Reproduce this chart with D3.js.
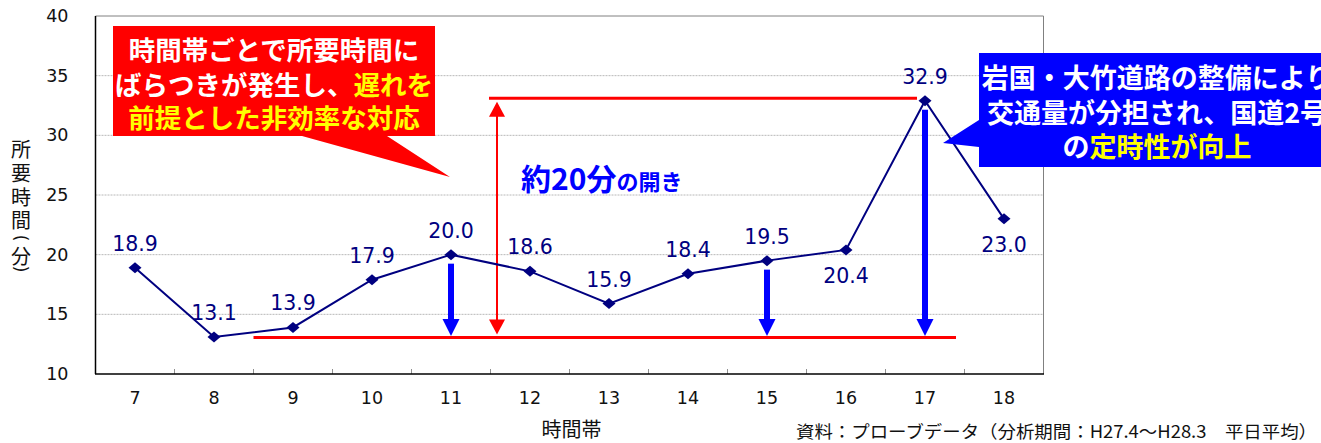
<!DOCTYPE html>
<html>
<head>
<meta charset="utf-8">
<script src="https://cdn.jsdelivr.net/npm/d3@7"></script>
<style>
  body { margin: 0; background: #fff; }
  svg { display: block; }
</style>
</head>
<body>
<div id="chart"></div>
<script>
// data
var hours = [7, 8, 9, 10, 11, 12, 13, 14, 15, 16, 17, 18];
var minutes = [18.9, 13.1, 13.9, 17.9, 20.0, 18.6, 15.9, 18.4, 19.5, 20.4, 32.9, 23.0];
var yTicks = [10, 15, 20, 25, 30, 35, 40];
var labelsBelow = [16, 18];          // hours whose value label sits under the point
var arrowHours = [11, 15, 17];       // blue "drop" arrows

var W = 1321, H = 443;
var plot = {left: 95.5, right: 1043.5, top: 16, bottom: 374};

var jp = "'Noto Sans CJK JP', 'Noto Sans', sans-serif";
var num = "'DejaVu Sans', 'Liberation Sans', sans-serif";
var navy = "#000080";

var svg = d3.select("#chart").append("svg")
    .attr("width", W)
    .attr("height", H);

svg.append("rect").attr("width", W).attr("height", H).attr("fill", "#fff");

var x = d3.scaleBand()
    .domain(hours)
    .range([plot.left, plot.right]);

var y = d3.scaleLinear()
    .domain([10, 40])
    .range([plot.bottom, plot.top]);

var cx = function(h) { return x(h) + x.bandwidth() / 2; };

// gridlines
svg.append("g")
  .selectAll("line")
  .data(yTicks.filter(function(t) { return t > 10 && t < 40; }))
  .enter().append("line")
    .attr("x1", plot.left).attr("x2", plot.right)
    .attr("y1", function(d) { return y(d); })
    .attr("y2", function(d) { return y(d); })
    .attr("stroke", "#b8b8b8")
    .attr("stroke-dasharray", "2,1");

// plot frame: grey top/right, black left/bottom
svg.append("path")
    .attr("d", "M" + plot.left + "," + y(40) + "H" + plot.right + "V" + plot.bottom)
    .attr("fill", "none")
    .attr("stroke", "#808080");

// x ticks between categories, pointing inward
svg.append("g")
  .selectAll("line")
  .data(hours.slice(1))
  .enter().append("line")
    .attr("x1", function(d) { return x(d); })
    .attr("x2", function(d) { return x(d); })
    .attr("y1", plot.bottom)
    .attr("y2", plot.bottom - 5)
    .attr("stroke", "#909090");

svg.append("line")
    .attr("x1", plot.left).attr("x2", plot.left)
    .attr("y1", plot.top).attr("y2", plot.bottom)
    .attr("stroke", "#000").attr("stroke-width", 1.5);
svg.append("line")
    .attr("x1", plot.left - 0.5).attr("x2", plot.right + 0.5)
    .attr("y1", plot.bottom).attr("y2", plot.bottom)
    .attr("stroke", "#000").attr("stroke-width", 1.5);

// axes (labels only)
var yAxis = svg.append("g")
    .attr("transform", "translate(" + plot.left + ",0)")
    .call(d3.axisLeft(y).tickValues(yTicks).tickSize(0).tickPadding(27));
yAxis.select(".domain").remove();
yAxis.selectAll("text")
    .style("font-family", num)
    .style("font-size", "17.5px")
    .attr("fill", "#111");

var xAxis = svg.append("g")
    .attr("transform", "translate(0," + plot.bottom + ")")
    .call(d3.axisBottom(x).tickSize(0).tickPadding(18));
xAxis.select(".domain").remove();
xAxis.selectAll("text")
    .style("font-family", num)
    .style("font-size", "17.5px")
    .attr("fill", "#111");

// axis titles (vertical; brackets are turned a quarter)
var yTitle = [
  {c: "所", y: 148}, {c: "要", y: 172}, {c: "時", y: 196}, {c: "間", y: 219.5},
  {c: "(", y: 238, r: 90}, {c: "分", y: 255}, {c: ")", y: 269, r: 90}
];
svg.append("g").selectAll("text")
  .data(yTitle)
  .enter().append("text")
    .attr("x", 21)
    .attr("y", function(d) { return d.y; })
    .attr("transform", function(d) { return d.r ? "rotate(" + d.r + ",21," + d.y + ")" : null; })
    .attr("text-anchor", "middle")
    .attr("dominant-baseline", "central")
    .style("font-family", function(d) { return d.r ? num : jp; })
    .style("font-size", function(d) { return d.r ? "17px" : "20px"; })
    .attr("fill", "#111")
    .text(function(d) { return d.c; });

svg.append("text")
    .attr("x", (plot.left + plot.right) / 2 + 2)
    .attr("y", 437)
    .attr("text-anchor", "middle")
    .style("font-family", jp)
    .style("font-size", "20px")
    .attr("fill", "#111")
    .text("時間帯");

svg.append("text")
    .attr("x", 796)
    .attr("y", 438)
    .attr("textLength", 521)
    .attr("lengthAdjust", "spacingAndGlyphs")
    .style("font-family", jp)
    .style("font-size", "17.5px")
    .attr("fill", "#111")
    .text("資料：プローブデータ（分析期間：H27.4～H28.3　平日平均）");

// red reference band (min / max) and the double arrow
var vMin = d3.min(minutes), vMax = d3.max(minutes);
var red = "#ff0000";

svg.append("line")
    .attr("x1", x(9)).attr("x2", cx(17) + 31)
    .attr("y1", y(vMin) + 0.5).attr("y2", y(vMin) + 0.5)
    .attr("stroke", red).attr("stroke-width", 3);
svg.append("line")
    .attr("x1", x(12) - 1.5).attr("x2", cx(17) - 8)
    .attr("y1", y(vMax) - 2.5).attr("y2", y(vMax) - 2.5)
    .attr("stroke", red).attr("stroke-width", 3);

var ax = x(12) + 6.5, aTop = y(vMax) + 1, aBot = y(vMin) - 2.5;
svg.append("line")
    .attr("x1", ax).attr("x2", ax)
    .attr("y1", aTop + 12).attr("y2", aBot - 12)
    .attr("stroke", red).attr("stroke-width", 2);
svg.append("path")
    .attr("d", "M" + ax + "," + aTop + "l8,15h-16z")
    .attr("fill", red);
svg.append("path")
    .attr("d", "M" + ax + "," + aBot + "l8,-15h-16z")
    .attr("fill", red);

// blue drop arrows
var blue = "#0000ff";
var arrows = svg.append("g").selectAll("g")
  .data(arrowHours)
  .enter().append("g");
arrows.append("rect")
    .attr("x", function(h) { return cx(h) - 3; })
    .attr("width", 6)
    .attr("y", function(h) { return y(minutes[hours.indexOf(h)]) + 9; })
    .attr("height", function(h) { return y(vMin) - 16 - (y(minutes[hours.indexOf(h)]) + 9); })
    .attr("fill", blue);
arrows.append("path")
    .attr("d", function(h) { return "M" + cx(h) + "," + (y(vMin) - 1) + "l8.5,-17h-17z"; })
    .attr("fill", blue);

// the series line
var line = d3.line()
    .x(function(d, i) { return cx(hours[i]); })
    .y(function(d) { return y(d); });

svg.append("path")
    .datum(minutes)
    .attr("d", line)
    .attr("fill", "none")
    .attr("stroke", navy)
    .attr("stroke-width", 2);

svg.append("g").selectAll("path")
  .data(minutes)
  .enter().append("path")
    .attr("transform", function(d, i) { return "translate(" + cx(hours[i]) + "," + y(d) + ")"; })
    .attr("d", "M0,-5.5L6.5,0L0,5.5L-6.5,0Z")
    .attr("fill", navy);

svg.append("g").selectAll("text")
  .data(minutes)
  .enter().append("text")
    .attr("x", function(d, i) { return cx(hours[i]); })
    .attr("y", function(d, i) {
      return labelsBelow.indexOf(hours[i]) >= 0 ? y(d) + 33 : y(d) - 17;
    })
    .attr("text-anchor", "middle")
    .style("font-family", num)
    .style("font-size", "20.5px")
    .attr("fill", navy)
    .text(function(d) { return d.toFixed(1); });

// "約20分の開き"
var gap = svg.append("text")
    .attr("x", 521)
    .attr("y", 190)
    .style("font-family", jp)
    .style("font-weight", "bold")
    .attr("fill", blue);
gap.append("tspan").style("font-size", "30px").text("約20分");
gap.append("tspan").style("font-size", "22px").text("の開き");

// red callout
svg.append("path")
    .attr("d", "M113,26H435V136H387L450,177L302,136H113Z")
    .attr("fill", red);

var redText = svg.append("text")
    .attr("text-anchor", "middle")
    .style("font-family", jp)
    .style("font-weight", "bold")
    .style("font-size", "26.5px")
    .attr("fill", "#fff");
redText.append("tspan").attr("x", 274).attr("y", 60).text("時間帯ごとで所要時間に");
var l2 = redText.append("tspan").attr("x", 274).attr("y", 95);
l2.append("tspan").text("ばらつきが発生し、");
l2.append("tspan").attr("fill", "#ffff00").text("遅れを");
redText.append("tspan").attr("x", 274).attr("y", 128).attr("fill", "#ffff00").text("前提とした非効率な対応");

// blue callout (runs past the right edge, as in the source figure)
svg.append("path")
    .attr("d", "M979,53H1340V167H979V147L943,143L979,120Z")
    .attr("fill", blue);

var blueText = svg.append("text")
    .attr("text-anchor", "middle")
    .style("font-family", jp)
    .style("font-weight", "bold")
    .style("font-size", "27px")
    .attr("fill", "#fff");
blueText.append("tspan").attr("x", 1157).attr("y", 88).text("岩国・大竹道路の整備により");
blueText.append("tspan").attr("x", 1157).attr("y", 123).text("交通量が分担され、国道2号");
var b3 = blueText.append("tspan").attr("x", 1157).attr("y", 157);
b3.append("tspan").text("の");
b3.append("tspan").attr("fill", "#ffff00").text("定時性が向上");
</script>
</body>
</html>
